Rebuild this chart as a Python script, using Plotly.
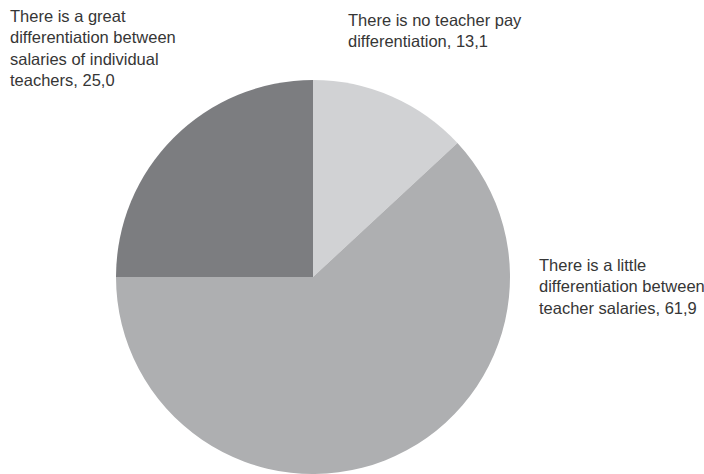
import plotly.graph_objects as go

# Survey shares (%) of teacher pay differentiation answers
categories = [
    "There is no teacher pay differentiation",
    "There is a little differentiation between teacher salaries",
    "There is a great differentiation between salaries of individual teachers",
]
values = [13.1, 61.9, 25.0]
label_lines = [
    ["There is no teacher pay", "differentiation, {}"],
    ["There is a little", "differentiation between", "teacher salaries, {}"],
    ["There is a great", "differentiation between", "salaries of individual", "teachers, {}"],
]
colors = ["#d1d2d4", "#aeafb1", "#7c7d80"]

W, H = 704, 474
cx, r = 313, 197

fig = go.Figure(go.Pie(
    labels=categories,
    values=values,
    sort=False,
    direction="clockwise",
    rotation=0,
    textinfo="none",
    hoverinfo="label+value",
    marker=dict(colors=colors, line=dict(width=0)),
    domain=dict(x=[(cx - r) / W, (cx + r) / W], y=[0, (2 * r) / H]),
    showlegend=False,
))

# label anchor points in pixels (left, top)
label_pos = [(346, 9), (537, 254), (8, 5)]

font = dict(family="Liberation Sans Narrow, Arial Narrow, Liberation Sans, Arial, sans-serif",
            size=16.5, color="#363636")
for lines, v, (px, py) in zip(label_lines, values, label_pos):
    val = f"{v:.1f}".replace(".", ",")
    text = "<br>".join(lines).format(val)
    fig.add_annotation(
        x=px / W, y=1 - py / H, xref="paper", yref="paper",
        xanchor="left", yanchor="top", align="left",
        text=text, showarrow=False, font=font,
    )

fig.update_layout(
    width=W, height=H,
    margin=dict(l=0, r=0, t=0, b=0),
    paper_bgcolor="white", plot_bgcolor="white",
)

fig.write_html("out.html")
